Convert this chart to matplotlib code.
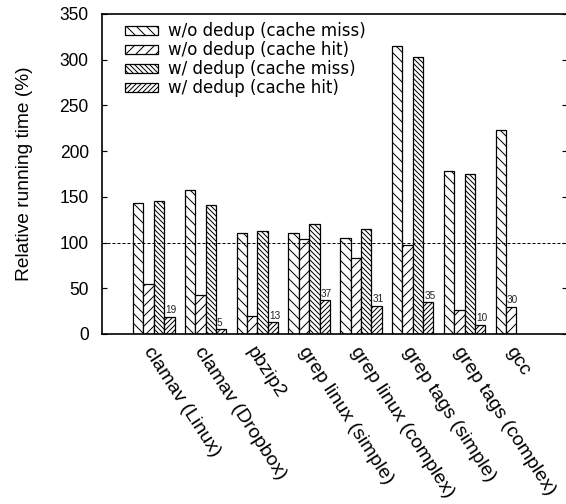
import matplotlib
matplotlib.use("Agg")
import matplotlib.pyplot as plt
import matplotlib.transforms as mtransforms
import numpy as np

plt.rcParams['font.family'] = ['Liberation Sans', 'DejaVu Sans']
plt.rcParams['hatch.linewidth'] = 0.6

categories = ["clamav (Linux)", "clamav (Dropbox)", "pbzip2", "grep linux (simple)",
              "grep linux (complex)", "grep tags (simple)", "grep tags (complex)", "gcc"]
series_names = ["w/o dedup (cache miss)", "w/o dedup (cache hit)",
                "w/ dedup (cache miss)", "w/ dedup (cache hit)"]
wo_miss = [143, 157, 111, 110, 105, 315, 178, 223]
wo_hit = [55, 43, 20, 104, 83, 97, 26, 30]
w_miss = [145, 141, 113, 120, 115, 303, 175, np.nan]
w_hit = [19, 5, 13, 37, 31, 35, 10, np.nan]
yticks = [0, 50, 100, 150, 200, 250, 300, 350]
baseline = 100

series = [wo_miss, wo_hit, w_miss, w_hit]
hatches = ['\\' * 4, '/' * 4, '\\' * 8, '/' * 8]

fig = plt.figure(figsize=(566/120, 504/120), dpi=120)
ax = fig.add_axes([102/566, 1-334/504, 1.002-102/566, 320/504])

x = np.arange(len(categories))
w = 0.2
for k, (vals, h, name) in enumerate(zip(series, hatches, series_names)):
    ax.bar(x - 0.4 + k*w, vals, w, align='edge', facecolor='white', edgecolor='black',
           hatch=h, linewidth=0.75, label=name)

# annotate cache-hit values
for i in range(len(categories)):
    if not np.isnan(w_hit[i]):
        v, k = w_hit[i], 3
    else:
        v, k = wo_hit[i], 1
    ax.text(x[i] - 0.4 + k*w + 0.02, v + 1.5, f"{int(v)}", fontsize=6,
            ha='left', va='bottom', color='#222222')

ax.axhline(baseline, color='black', linestyle=(0, (3, 2)), linewidth=0.6)

ax.set_xlim(-1.0, 7.98)
ax.set_ylim(0, 350)
ax.set_yticks(yticks)
ax.set_xticks(x)
ax.set_xticklabels(categories, rotation=-57, ha='left', va='top', rotation_mode='anchor')
offset = mtransforms.ScaledTranslation(4/120, -2/120, fig.dpi_scale_trans)
for lbl in ax.get_xticklabels():
    lbl.set_transform(lbl.get_transform() + offset)
ax.tick_params(axis='x', length=0, pad=6, labelsize=11.7)
ax.tick_params(axis='y', direction='in', length=3, width=0.7, right=True, labelsize=10.5, pad=8)
ax.set_ylabel("Relative running time (%)", fontsize=11.5, labelpad=16)
for s in ax.spines.values():
    s.set_linewidth(1.0)
ax.spines['right'].set_visible(False)

ax.legend(loc='upper left', frameon=False, prop={'family': 'DejaVu Sans', 'size': 10},
          handlelength=2.0, handleheight=0.45, handletextpad=0.6, labelspacing=0.06,
          bbox_to_anchor=((125-102)/464, (334-22)/320), borderaxespad=0, borderpad=0)

fig.savefig("out.png", dpi=120)
